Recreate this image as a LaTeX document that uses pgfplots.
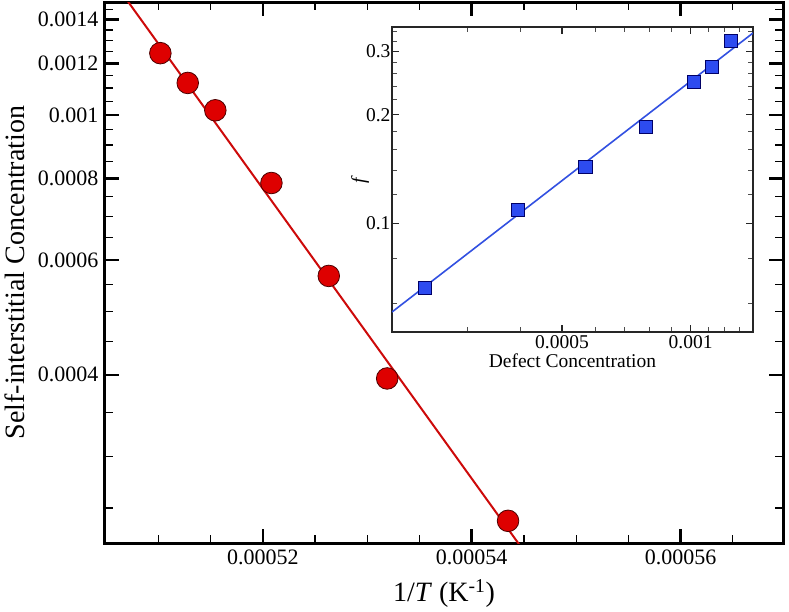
\documentclass[border=0pt]{standalone}
\usepackage{fontspec}
\setmainfont{Liberation Serif}
\usepackage{pgfplots}
\pgfplotsset{compat=1.18}
\definecolor{mred}{RGB}{222,0,0}
\definecolor{lred}{RGB}{205,10,10}
\definecolor{mblue}{RGB}{45,75,240}
\definecolor{lblue}{RGB}{50,80,225}
\begin{document}
\begin{tikzpicture}
\useasboundingbox (-105pt,-68pt) rectangle (684pt,543pt);
\begin{axis}[
  at={(0pt,0pt)}, anchor=south west,
  scale only axis, width=678pt, height=541pt,
  xmin=0.0005049, xmax=0.0005698,
  ymode=log, ymin=0.000221, ymax=0.00149,
  scaled x ticks=false, scaled y ticks=false,
  axis line style={line width=3pt},
  tick align=inside,
  xtick={0.00052,0.00054,0.00056},
  xticklabels={0.00052,0.00054,0.00056},
  minor xtick={0.00051,0.000515,0.000525,0.00053,0.000535,0.000545,0.00055,0.000555,0.000565},
  ytick={0.0004,0.0006,0.0008,0.001,0.0012,0.0014},
  yticklabels={0.0004,0.0006,0.0008,0.001,0.0012,0.0014},
  minor ytick={0.00025,0.0003,0.00035,0.00045,0.0005,0.00055,0.00065,0.0007,0.00075,0.00085,0.0009,0.00095,0.00105,0.0011,0.00115,0.00125,0.0013,0.00135,0.00145},
  major tick length=14pt, minor tick length=8pt,
  major tick style={line width=2.5pt, black},
  minor tick style={line width=1.2pt, black},
  tick label style={font=\fontsize{22}{25}\selectfont},
  xticklabel style={yshift=-3pt},
  yticklabel style={xshift=-3pt},
  xlabel={1/\textit{T} (K\textsuperscript{-1})},
  ylabel={Self-interstitial Concentration},
  label style={font=\fontsize{28}{32}\selectfont},
  xlabel style={at={(axis description cs:0.5,0)}, anchor=base, yshift=-58.7pt},
  ylabel style={at={(axis description cs:0,0.5)}, anchor=center, yshift=90pt},
]
\addplot[draw=lred, line width=2pt, no marks] coordinates {(0.000504,0.001749) (0.000547,0.000194)};
\addplot[only marks, mark=*, mark size=10.8pt, mark options={fill=mred, draw=black!70!red, line width=0.8pt}] coordinates {
  (0.00051020,0.001244)
  (0.00051282,0.00112)
  (0.00051546,0.001017)
  (0.00052083,0.000787)
  (0.00052632,0.000567)
  (0.00053191,0.000395)
  (0.00054348,0.000239)
};
\end{axis}
\begin{axis}[
  at={(287pt,211pt)}, anchor=south west,
  scale only axis, width=361pt, height=305pt,
  xmode=log, ymode=log,
  xmin=0.0002, xmax=0.0014, ymin=0.05, ymax=0.35,
  axis background/.style={fill=white},
  axis line style={line width=1.3pt, black!85},
  tick align=inside,
  xtick={0.0005,0.001}, xticklabels={0.0005,0.001},
  minor xtick={0.0003,0.0004,0.0006,0.0007,0.0008,0.0009,0.0011,0.0012,0.0013},
  ytick={0.1,0.2,0.3}, yticklabels={0.1,0.2,0.3},
  minor ytick={0.06,0.08,0.12,0.14,0.16,0.18,0.22,0.24,0.26,0.28,0.32,0.34},
  major tick length=7pt, minor tick length=5pt,
  major tick style={line width=1.1pt, black!85},
  minor tick style={line width=0.9pt, black!70},
  tick label style={font=\fontsize{19.5}{22}\selectfont},
  yticklabel style={xshift=2pt},
  xlabel={Defect Concentration},
  ylabel={\textit{f}},
  label style={font=\fontsize{19.5}{22}\selectfont},
  xlabel style={at={(axis description cs:0.5,0)}, anchor=north, yshift=-18pt},
  ylabel style={at={(axis description cs:0,0.5)}, anchor=center, yshift=32pt},
]
\addplot[draw=lblue, line width=1.6pt, no marks] coordinates {(0.0002,0.0568) (0.0014,0.3368)};
\addplot[only marks, mark=square*, mark size=6.6pt, mark options={fill=mblue, draw=black!60!blue, line width=0.8pt}] coordinates {
  (0.000239,0.0663)
  (0.000395,0.1091)
  (0.000567,0.1437)
  (0.000787,0.1846)
  (0.001017,0.2463)
  (0.00112,0.2709)
  (0.001244,0.3203)
};
\end{axis}
\end{tikzpicture}
\end{document}
